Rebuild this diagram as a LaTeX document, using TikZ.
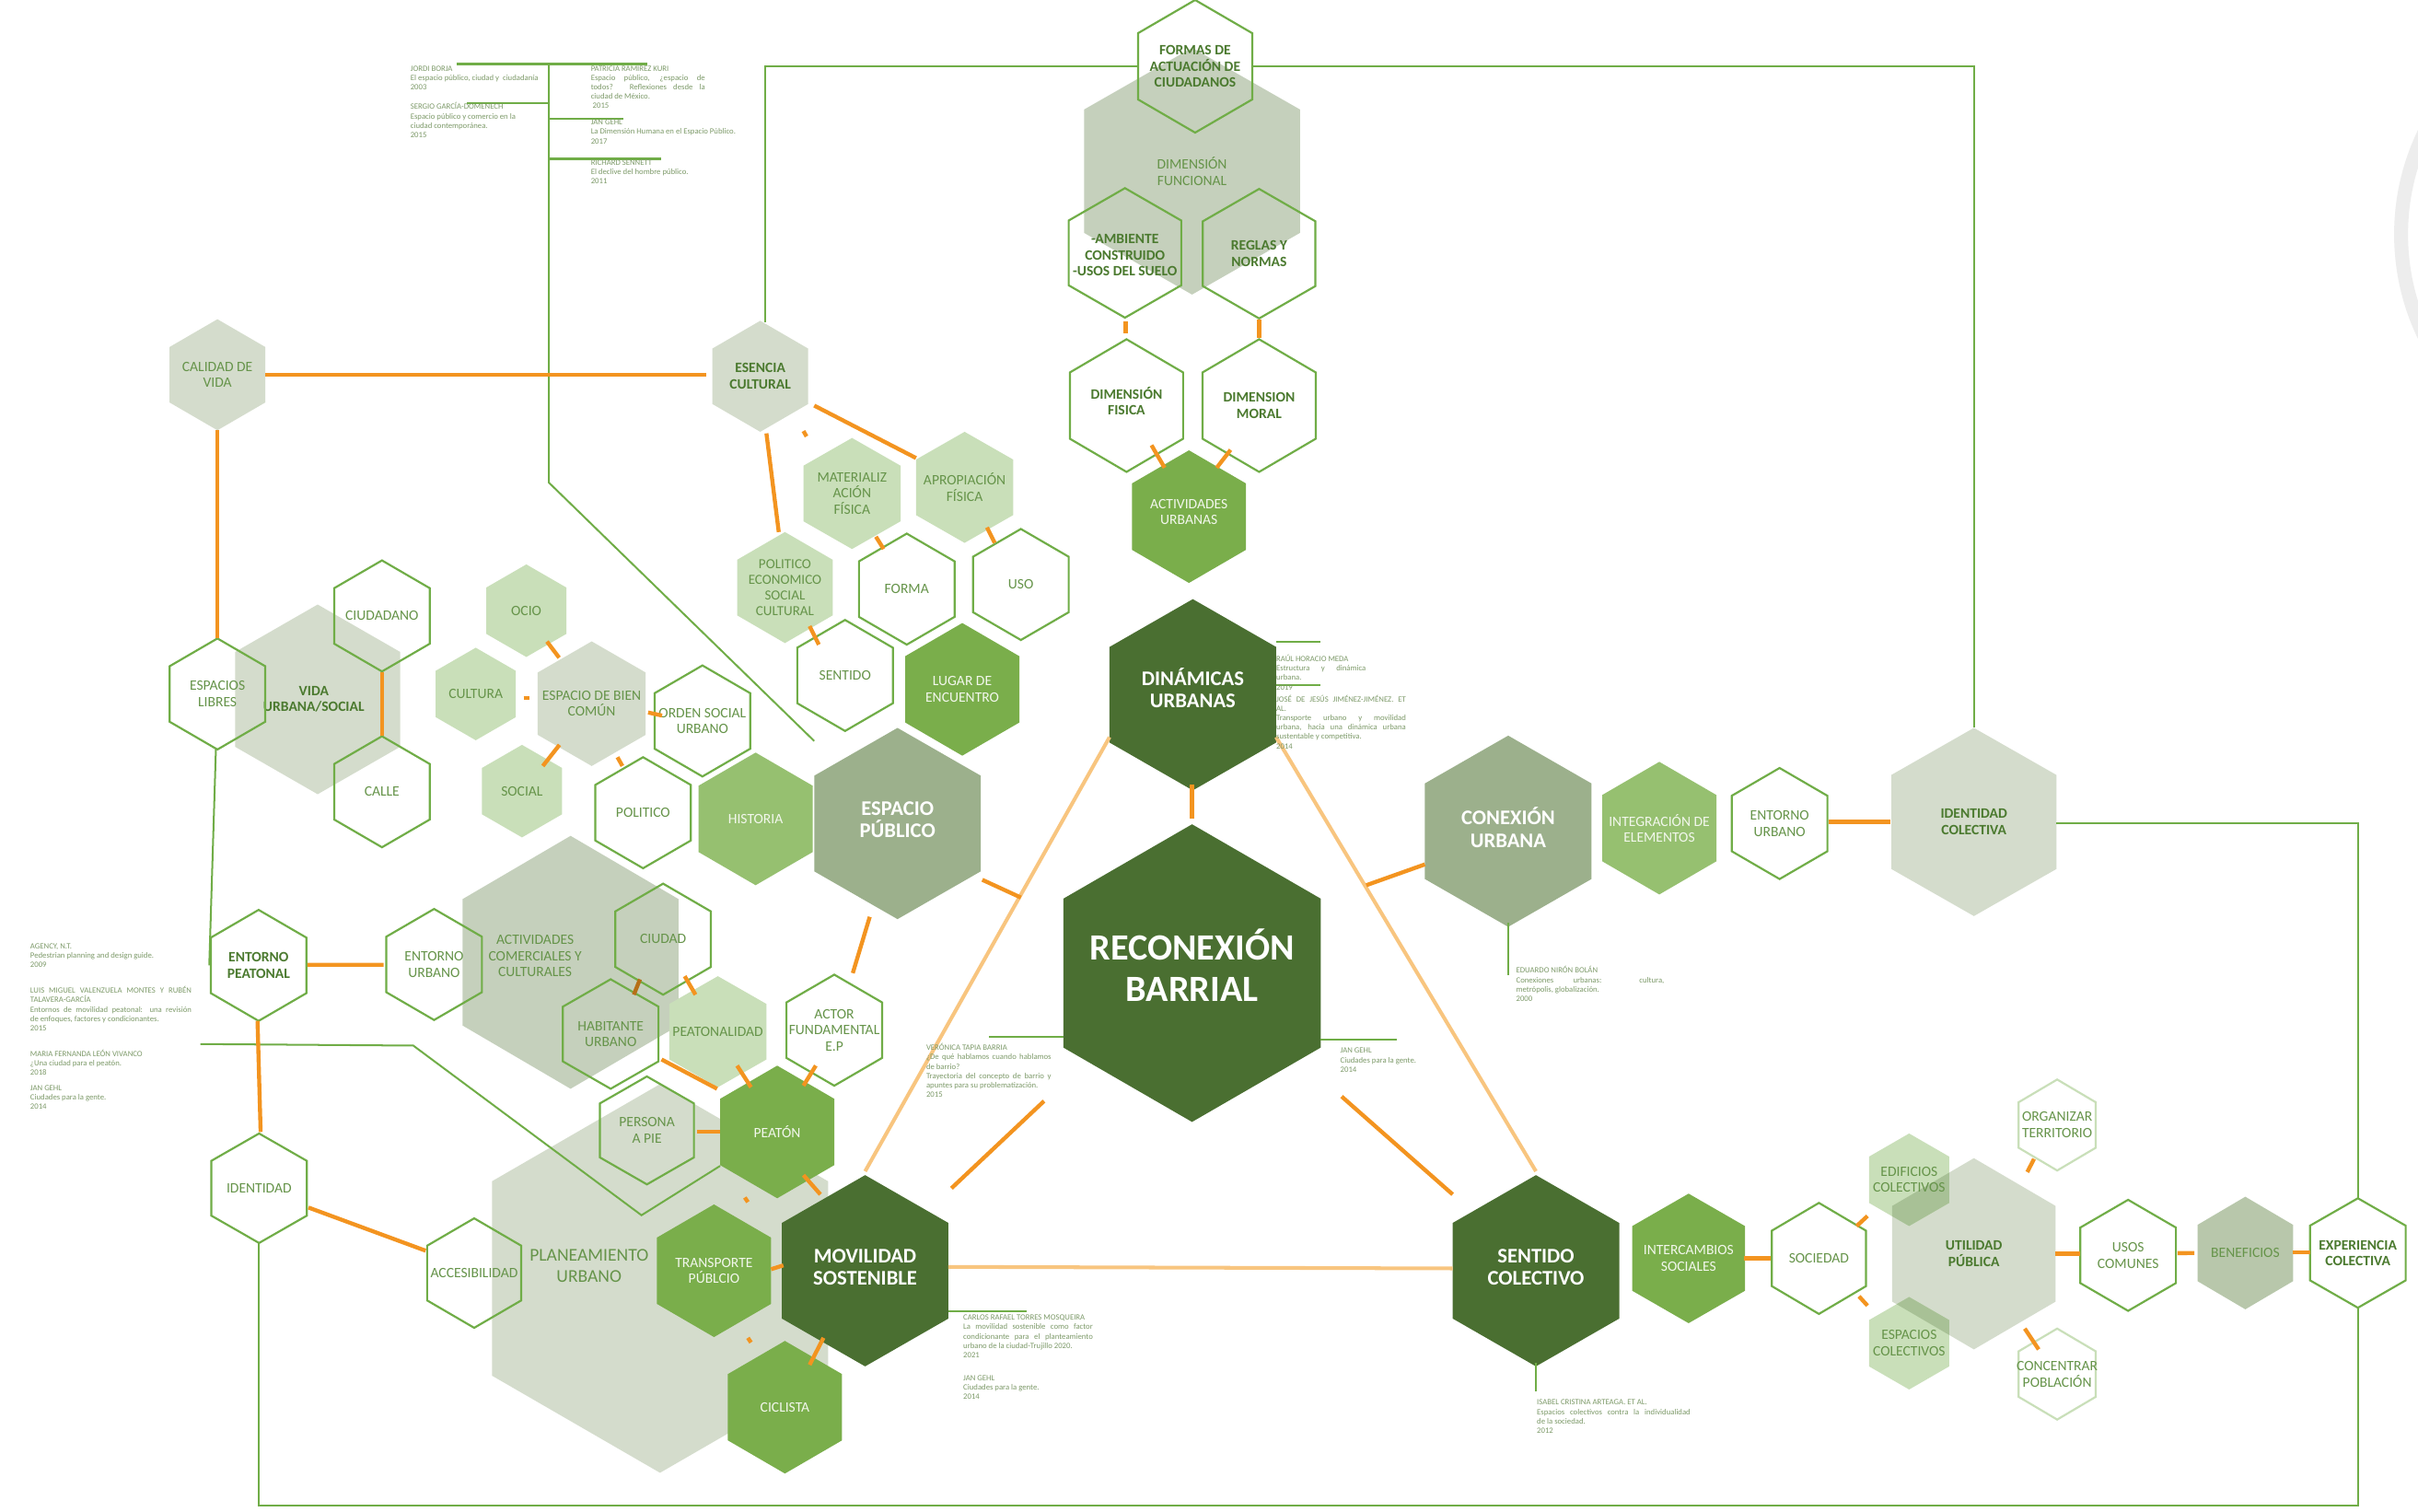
\documentclass[tikz,border=0pt]{standalone}
\usepackage{fontspec}
\setmainfont{Carlito}
\usetikzlibrary{calc}
\definecolor{hexg}{HTML}{70AD47}
\definecolor{dkg}{HTML}{4A6F31}
\definecolor{mdg}{HTML}{7AAE4B}
\definecolor{lmg}{HTML}{96C070}
\definecolor{ltg}{HTML}{C9DFB9}
\definecolor{gra}{HTML}{D4DCCC}
\definecolor{grb}{HTML}{C5D0BC}
\definecolor{grc}{HTML}{9CB08C}
\definecolor{bng}{HTML}{B8C7AB}
\definecolor{ovl}{HTML}{A8C196}
\definecolor{orng}{HTML}{F39420}
\definecolor{lorng}{HTML}{F8C57F}
\definecolor{txg}{HTML}{66944A}
\definecolor{txb}{HTML}{4B7A2F}
\definecolor{reft}{HTML}{7D9A69}
\definecolor{wtx}{HTML}{F2F7EC}
\newcommand\hx[8]{%
  \path[#6] (#2,#3-#5) -- (#2+#4,#3-0.5*#5) -- (#2+#4,#3+0.5*#5) -- (#2,#3+#5) -- (#2-#4,#3+0.5*#5) -- (#2-#4,#3-0.5*#5) -- cycle;
  \node[#7] (#1) at (#2,#3) {#8};}
\newcommand\cn[5][oc]{\draw[#1] ($(#2)+(#3)$) -- ($(#4)+(#5)$);}
\tikzset{
  ol/.style={draw=hexg,line width=1.3},
  oll/.style={draw=ltg,line width=1.3},
  fdk/.style={fill=dkg}, fmd/.style={fill=mdg}, flm/.style={fill=lmg},
  flt/.style={fill=ltg}, fga/.style={fill=gra}, fgb/.style={fill=grb},
  fgc/.style={fill=grc}, fbn/.style={fill=bng},
  lab/.style={align=center,inner sep=0pt,font=\fontsize{9.3}{10.5}\selectfont,text=txg},
  labb/.style={lab,font=\fontsize{9.3}{10.5}\selectfont\bfseries,text=txb},
  labw/.style={lab,text=wtx},
  labbig/.style={align=center,inner sep=0pt,font=\fontsize{13.5}{14.5}\selectfont\bfseries,text=white,yshift=2.5pt},
  oc/.style={draw=orng,line width=2.6},
  loc/.style={draw=lorng,line width=2.4},
  gl/.style={draw=hexg,line width=1.2},
  ref/.style={anchor=north west,inner sep=0pt,align=left,font=\fontsize{5.2}{6.1}\selectfont,text=reft}
}
\begin{document}
\begin{tikzpicture}[x=1pt,y=-1pt]
\useasboundingbox (0,0) rectangle (1568,980);
\clip (0,0) rectangle (1568,980);
\fill[white] (0,0) rectangle (1568,980);
\draw[gray!14,line width=9] (1708,152) circle[radius=151pt];

% background hexagons
\hx{funcional}{773}{111}{70}{80}{fgb}{lab}{DIMENSIÓN\\FUNCIONAL}
\hx{vida}{206}{453.5}{53.5}{61.5}{fga}{labb,xshift=-2.5pt}{VIDA\\URBANA/SOCIAL}
\hx{actcom}{370}{624}{70}{82}{fgb}{lab,xshift=-23pt,yshift=4pt}{ACTIVIDADES\\COMERCIALES Y\\CULTURALES}
\hx{planeamiento}{428}{829}{109}{126}{fga}{lab,font=\fontsize{11.7}{14}\selectfont,xshift=-46pt,yshift=8pt}{PLANEAMIENTO\\URBANO}

% hexagons
\hx{formas}{775}{43}{37}{43}{ol}{labb}{FORMAS DE\\ACTUACIÓN DE\\CIUDADANOS}
\hx{ambiente}{729.5}{164}{36.5}{42}{ol}{labb,yshift=-1.5pt}{-AMBIENTE\\CONSTRUIDO\\-USOS DEL SUELO}
\hx{reglas}{816.5}{164.5}{36.5}{42}{ol}{labb}{REGLAS Y\\NORMAS}
\hx{fisica}{730.5}{263}{36.7}{43}{ol}{labb,yshift=3pt}{DIMENSIÓN\\FISICA}
\hx{moral}{816.5}{263}{36.7}{43}{ol}{labb}{DIMENSION\\MORAL}
\hx{actur}{771}{335}{37}{43}{fmd}{labw,yshift=3pt}{ACTIVIDADES\\URBANAS}

\hx{dinamicas}{773.5}{450.5}{54}{62}{fdk}{labbig,yshift=2pt}{DINÁMICAS\\URBANAS}
\hx{reco}{773}{631}{83.5}{96.5}{fdk}{labbig,font=\fontsize{24}{27}\selectfont\bfseries,yshift=2.5pt}{RECONEXIÓN\\BARRIAL}
\hx{movilidad}{561}{824}{54}{62}{fdk}{labbig}{MOVILIDAD\\SOSTENIBLE}
\hx{sentido}{996}{824}{54}{62}{fdk}{labbig}{SENTIDO\\COLECTIVO}
\hx{esppub}{582}{534}{54}{62}{fgc}{labbig}{ESPACIO\\PÚBLICO}
\hx{conexion}{978}{539}{54}{62}{fgc}{labbig}{CONEXIÓN\\URBANA}
\hx{integracion}{1076}{537}{37}{43}{flm}{labw}{INTEGRACIÓN DE\\ELEMENTOS}
\hx{entornoR}{1154}{534}{31}{36}{ol}{lab}{ENTORNO\\URBANO}
\hx{idcol}{1280}{533}{53.5}{61}{fga}{labb}{IDENTIDAD\\COLECTIVA}

\hx{intercambios}{1095}{816}{36.5}{42}{fmd}{labw}{INTERCAMBIOS\\SOCIALES}
\hx{sociedad}{1179.5}{816}{30.5}{36}{ol}{lab}{SOCIEDAD}
\hx{utilidad}{1280}{813}{53}{62}{fga}{labb}{UTILIDAD\\PÚBLICA}
\fill[ltg] (1238,735) -- (1264,750) -- (1264,780) -- (1238,795) -- (1212,780) -- (1212,750) -- cycle;
\fill[ltg] (1238,841) -- (1264,856) -- (1264,886) -- (1238,901) -- (1212,886) -- (1212,856) -- cycle;
\begin{scope}
\clip (1280,751) -- (1333,782) -- (1333,844) -- (1280,875) -- (1227,844) -- (1227,782) -- cycle;
\fill[ovl] (1238,735) -- (1264,750) -- (1264,780) -- (1238,795) -- (1212,780) -- (1212,750) -- cycle;
\fill[ovl] (1238,841) -- (1264,856) -- (1264,886) -- (1238,901) -- (1212,886) -- (1212,856) -- cycle;
\end{scope}
\node[lab] (edificios) at (1238,765) {EDIFICIOS\\COLECTIVOS};
\node[lab] (espcol) at (1238,871) {ESPACIOS\\COLECTIVOS};
\hx{organizar}{1334}{729.5}{25}{29.5}{oll}{lab}{ORGANIZAR\\TERRITORIO}
\hx{concentrar}{1334}{891}{25}{29.5}{oll}{lab}{CONCENTRAR\\POBLACIÓN}
\hx{usos}{1380}{814}{31}{36}{ol}{lab}{USOS\\COMUNES}
\hx{beneficios}{1456}{812.5}{31}{36.5}{fbn}{lab}{BENEFICIOS}
\hx{experiencia}{1529}{812.5}{31}{35.5}{ol}{labb}{EXPERIENCIA\\COLECTIVA}

\hx{calidad}{141}{243}{31}{36}{fga}{lab}{CALIDAD DE\\VIDA}
\hx{esencia}{493}{244}{31}{36}{fga}{labb}{ESENCIA\\CULTURAL}
\hx{espLibres}{141}{450}{31}{36}{ol}{lab}{ESPACIOS\\LIBRES}
\hx{ciudadano}{247.7}{399.4}{31}{36}{ol}{lab}{CIUDADANO}
\hx{calle}{247.7}{513.4}{31}{36}{ol}{lab}{CALLE}
\hx{ocio}{341.3}{396}{26}{30}{flt}{lab}{OCIO}
\hx{cultura}{308.5}{450}{26}{30}{flt}{lab}{CULTURA}
\hx{ebc}{383.7}{456.3}{35}{40.4}{fga}{lab}{ESPACIO DE BIEN\\COMÚN}
\hx{social}{338.5}{513}{26}{30}{flt}{lab}{SOCIAL}
\hx{orden}{455.5}{467.5}{31}{36}{ol}{lab}{ORDEN SOCIAL\\URBANO}
\hx{politico}{417}{527}{31}{36}{ol}{lab}{POLITICO}
\hx{historia}{490}{531}{37}{43}{flm}{labw}{HISTORIA}

\hx{matfis}{552.5}{320}{31.5}{36}{flt}{lab}{MATERIALIZ\\ACIÓN\\FÍSICA}
\hx{apropiacion}{625.5}{316}{31.5}{36}{flt}{lab}{APROPIACIÓN\\FÍSICA}
\hx{forma}{588}{382}{31}{36}{ol}{lab}{FORMA}
\hx{uso}{662}{379}{31}{36}{ol}{lab}{USO}
\hx{polec}{509}{381}{31}{36}{flt}{lab,font=\fontsize{9}{10.3}\selectfont}{POLITICO\\ECONOMICO\\SOCIAL\\CULTURAL}
\hx{sentidoH}{548}{438}{31}{36}{ol}{lab}{SENTIDO}
\hx{lugar}{624}{447}{37}{43}{fmd}{labw}{LUGAR DE\\ENCUENTRO}

\hx{entPeat}{167.7}{626}{31}{36}{ol}{labb}{ENTORNO\\PEATONAL}
\hx{entUrbL}{281.5}{625.4}{31}{36}{ol}{lab}{ENTORNO\\URBANO}
\hx{ciudad}{430}{609}{31}{36}{ol}{lab}{CIUDAD}
\hx{habitante}{396}{670.5}{31}{35.5}{ol}{lab}{HABITANTE\\URBANO}
\hx{peatonalidad}{465.5}{669}{31.5}{36}{flt}{lab}{PEATONALIDAD}
\hx{actor}{541}{668}{31}{36}{ol}{lab}{ACTOR\\FUNDAMENTAL\\E.P}
\hx{persona}{419.5}{733}{30.5}{35}{ol}{lab}{PERSONA\\A PIE}
\hx{accesibilidad}{307.5}{825.5}{30.5}{35.5}{ol}{lab}{ACCESIBILIDAD}
\hx{identidad}{168}{770.5}{31}{35.5}{ol}{lab}{IDENTIDAD}
\hx{peaton}{504}{734}{37}{43}{fmd}{labw}{PEATÓN}
\hx{transporte}{463}{824}{37}{43}{fmd}{labw}{TRANSPORTE\\PÚBLCIO}
\hx{ciclista}{509}{912.5}{37}{43}{fmd}{labw}{CICLISTA}

% green frame and reference lines
\draw[gl] ($(esencia)+(3,-35)$) |- ($(formas)+(-37,0)$);
\draw[gl] ($(formas)+(37,0)$) -| ($(idcol)+(0,-61)$);
\draw[gl] ($(idcol)+(53.5,1)$) -| ($(experiencia)+(0,-35.5)$);
\draw[gl] ($(experiencia)+(0,35.5)$) |- ($(identidad)+(0,205.5)$) -- ($(identidad)+(0,35.5)$);
\draw[gl] ($(espLibres)+(-1,36)$) -- ($(entPeat)+(-32,0)$);
\coordinate (refL) at (130,677);
\draw[gl] (refL) -- (268,678) -- (416,788) -- ($(peaton)+(-37,22)$);
\coordinate (refT) at (296,41.5);
\draw[gl] (refT) -- (420,41.5);
\draw[gl] (356,41.5) -- (356,313) -- ($(esppub)+(-54,-51)$);
\draw[gl] (303,67) -- (356,67);
\draw[gl] (356,77) -- (404,77);
\draw[gl] (356,103) -- (429,103);
\draw[gl] ($(dinamicas)+(54,-30)$) -- ++(29,0);
\draw[gl] ($(dinamicas)+(54,-1.5)$) -- ++(29,0);
\draw[gl] ($(reco)+(83.5,48)$) -- ++(49,0);
\draw[gl] ($(reco)+(-83.5,46.5)$) -- ++(-48,0);
\draw[gl] ($(movilidad)+(54,28.5)$) -- ++(51,0);
\draw[gl] ($(conexion)+(0,62)$) -- ++(0,34);
\draw[gl] ($(sentido)+(0,62)$) -- ++(0,19);

% light orange links
\draw[loc] ($(dinamicas)+(-54,32)$) -- ($(movilidad)+(0,-62)$);
\draw[loc] ($(dinamicas)+(54,32)$) -- ($(sentido)+(0,-62)$);
\draw[loc] ($(movilidad)+(54,0)$) -- ($(sentido)+(-54,1)$);

% orange connectors
\cn{ambiente}{0.5,43}{fisica}{-0.5,-44}
\cn{reglas}{0,42.5}{moral}{0,-44}
\cn{fisica}{16.2,28.7}{actur}{-15.8,-28.7}
\cn{moral}{-18.5,28.7}{actur}{18,-28.7}
\cn{dinamicas}{-0.5,62.5}{reco}{0,-95}
\cn{conexion}{-54,24}{reco}{113,-52}
\cn{esppub}{55,39}{reco}{-111,-44}
\cn{movilidad}{56,-51}{reco}{-96,88}
\cn{sentido}{-54,-47}{reco}{97,85}
\cn{entornoR}{32,-1}{idcol}{-54,0}
\cn{intercambios}{36,0}{sociedad}{-31.5,0}
\cn{sociedad}{24.5,-21}{edificios}{-27,23.5}
\cn{sociedad}{26,24.6}{espcol}{-27,-24.4}
\cn{utilidad}{34.6,-53}{organizar}{-15,22}
\cn{utilidad}{33,48.5}{concentrar}{-12,-16}
\cn{utilidad}{53,0}{usos}{-31,-1}
\cn{usos}{32,-1.4}{beneficios}{-33,0}
\cn{beneficios}{31,-0.5}{experiencia}{-31,-0.5}
\cn{calidad}{31,0}{esencia}{-35,-1}
\cn{calidad}{0,36}{espLibres}{0,-36}
\cn{ciudadano}{0,36.4}{calle}{0,-36.4}
\cn{ocio}{13.4,20}{ebc}{-21.1,-29.8}
\cn{cultura}{31,2.6}{ebc}{-40.2,-3.7}
\cn{ebc}{-20.9,26.7}{social}{13.5,-16.3}
\cn{ebc}{16.7,34.7}{politico}{-13.4,-30.3}
\cn{ebc}{36.6,5.7}{orden}{-26.2,-3.5}
\cn{esencia}{35,19}{apropiacion}{-31.5,-19}
\cn{esencia}{28,35.5}{matfis}{-29.5,-37}
\cn{esencia}{4,37}{polec}{-4,-36}
\cn{matfis}{15.5,28}{forma}{-15,-26}
\cn{apropiacion}{14.5,26}{uso}{-17,-27}
\cn{polec}{16,25}{sentidoH}{-17,-20}
\cn{entPeat}{31.6,-0.4}{entUrbL}{-32.7,0.2}
\cn{entPeat}{-0.7,36}{identidad}{1,-36.5}
\cn{identidad}{32,12.5}{accesibilidad}{-31.5,-14.5}
\cn[oc,draw=orng!75!black]{ciudad}{-15,26}{habitante}{15,-25.5}
\cn{ciudad}{14,24}{peatonalidad}{-14.5,-24}
\cn{esppub}{-18,63}{actor}{12,-37}
\cn{habitante}{33,16.5}{peaton}{-39,-28}
\cn{peatonalidad}{12.5,22}{peaton}{-17,-29}
\cn{actor}{-12,23}{peaton}{17,-30}
\cn{persona}{32.5,1}{peaton}{-37,0}
\cn{peaton}{17,28}{movilidad}{-29,-47}
\cn{transporte}{37,-1}{movilidad}{-53,-1}
\cn{movilidad}{-27,46}{ciclista}{16,-27.5}
\cn{transporte}{20,-47.5}{peaton}{-19,45.5}
\cn{transporte}{22,43.5}{ciclista}{-22,-42}

% reference texts
\node[ref] (r1) at (266,42.5) {JORDI BORJA\\El espacio público, ciudad y\ \ ciudadanía\\2003};
\node[ref] (r2) at (266,66.5) {SERGIO GARCÍA-DOMENECH\\Espacio público y comercio en la\\ciudad contemporánea.\\2015};
\node[ref] (r3) at (383,41.5) {PATRICIA RAMÍREZ KURI\\\makebox[74pt][s]{Espacio público, ¿espacio de}\\\makebox[74pt][s]{todos? Reflexiones desde la}\\ciudad de México.\\\ 2015};
\node[ref] (r4) at (383,77.5) {JAN GEHL\\La Dimensión Humana en el Espacio Público.\\2017};
\node[ref] (r5) at (383,103.5) {RICHARD SENNETT\\El declive del hombre público.\\2011};
\node[ref] (r6) at (827.5,424.5) {RAÚL HORACIO MEDA\\\makebox[58pt][s]{Estructura y dinámica}\\urbana.\\2019};
\node[ref] (r7) at (827.5,450.5) {\makebox[84pt][s]{JOSÉ DE JESÚS JIMÉNEZ-JIMÉNEZ. ET}\\AL.\\\makebox[84pt][s]{Transporte urbano y movilidad}\\\makebox[84pt][s]{urbana, hacia una dinámica urbana}\\sustentable y competitiva.\\2014};
\node[ref] (r8) at (19.5,611.5) {AGENCY, N.T.\\Pedestrian planning and design guide.\\2009};
\node[ref] (r9) at (19.5,639.5) {\makebox[104.5pt][s]{LUIS MIGUEL VALENZUELA MONTES Y RUBÉN}\\TALAVERA-GARCÍA\\\makebox[104.5pt][s]{Entornos de movilidad peatonal: una revisión}\\de enfoques, factores y condicionantes.\\2015};
\node[ref] (r10) at (19.5,680.5) {MARIA FERNANDA LEÓN VIVANCO\\¿Una ciudad para el peatón.\\2018};
\node[ref] (r11) at (19.5,703.5) {JAN GEHL\\Ciudades para la gente.\\2014};
\node[ref] (r12) at (600.5,676.5) {VERÓNICA TAPIA BARRIA\\\makebox[81pt][s]{¿De qué hablamos cuando hablamos}\\de barrio?\\\makebox[81pt][s]{Trayectoria del concepto de barrio y}\\apuntes para su problematización.\\2015};
\node[ref] (r13) at (624.5,852.5) {CARLOS RAFAEL TORRES MOSQUEIRA\\\makebox[84pt][s]{La movilidad sostenible como factor}\\\makebox[84pt][s]{condicionante para el planteamiento}\\urbano de la ciudad-Trujillo 2020.\\2021};
\node[ref] (r14) at (624.5,891.5) {JAN GEHL\\Ciudades para la gente.\\2014};
\node[ref] (r15) at (869,679.5) {JAN GEHL\\Ciudades para la gente.\\2014};
\node[ref] (r16) at (983,626.5) {EDUARDO NIRÓN BOLÁN\\\makebox[96pt][s]{Conexiones urbanas: cultura,}\\metrópolis, globalización.\\2000};
\node[ref] (r17) at (996.5,907.5) {ISABEL CRISTINA ARTEAGA. ET AL.\\\makebox[99.5pt][s]{Espacios colectivos contra la individualidad}\\de la sociedad.\\2012};
\end{tikzpicture}
\end{document}
